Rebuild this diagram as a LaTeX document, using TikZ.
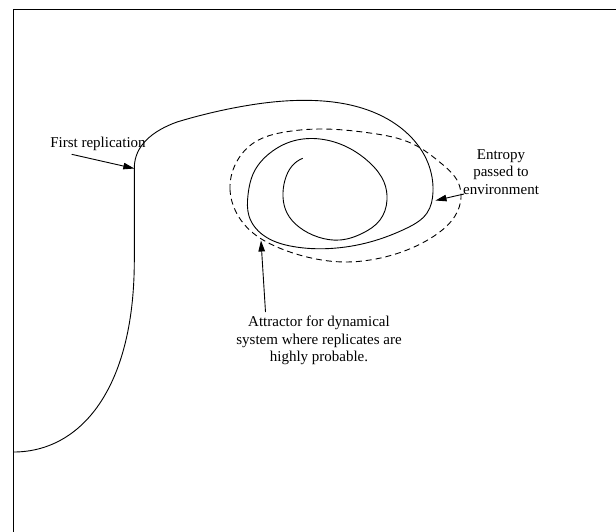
\documentclass[tikz,border=0pt]{standalone}
\usepackage{fontspec}
\setmainfont{Liberation Serif}
\usetikzlibrary{arrows.meta,hobby}
\begin{document}
\begin{tikzpicture}[x=1pt,y=-1pt,
  frameline/.style={line width=1.3pt, line cap=rect},
  curve/.style={line width=0.9pt, line join=round},
  dashcurve/.style={line width=0.9pt, dash pattern=on 6pt off 4pt},
  arr/.style={line width=0.9pt, -{Triangle[length=11pt,width=6.5pt]}, shorten >=0pt},
  lbl/.style={font=\fontsize{15}{17.5}\selectfont, inner sep=0pt, align=center}]
\useasboundingbox (0,0) rectangle (616,531);
% frame (top and left only)
\draw[frameline] (13.5,531) -- (13.5,9.5) -- (616,9.5);
% main trajectory
\draw[curve] (13.5,452) .. controls (80,452) and (133.8,390) .. (134.3,262) -- (134.3,168) .. controls (134.3,146) and (152,131) .. (177,122);
\draw[curve] plot[hobby] coordinates {(177,122) (236,107.5) (314,100.5) (373,112) (409,135) (428,163) (433,192) (427,213) (407,228) (370,242) (330,248.5) (293,246.5) (263,235) (249,216) (248,195) (254,172) (270,153) (293,141) (320,139) (347,147) (370,163) (384,182) (387,200) (380,220) (363,233) (340,240) (318,237) (299,227) (287,213) (283,197) (285,180) (292,166) (302.7,158.3)};
% dashed attractor boundary
\draw[dashcurve] plot[closed hobby] coordinates {(230,190) (236,163) (255,142) (285,132) (320,129) (370,133) (413,144) (442,164) (458,182) (461,198) (455,216) (437,234) (407,250) (370,260) (347,262) (307,257) (277,247) (253,233) (236,212)};
% labels
\node[lbl, anchor=base] (fr) at (98,147) {First replication};
\node[lbl, anchor=north] (en) at (501,149) {Entropy\\passed to\\environment};
\node[lbl, anchor=north] (at) at (319,316) {Attractor for dynamical\\system where replicates are\\highly probable.};
% arrow ends
\coordinate (frtail) at (71.7,154.3);
\coordinate (frtip) at (134.3,168.5);
\coordinate (entail) at (464,194);
\coordinate (entip) at (435.5,200.5);
\coordinate (attail) at (265.5,312);
\coordinate (attip) at (261,240.5);
\draw[arr] (frtail) -- (frtip);
\draw[arr] (entail) -- (entip);
\draw[arr] (attail) -- (attip);
\end{tikzpicture}
\end{document}
